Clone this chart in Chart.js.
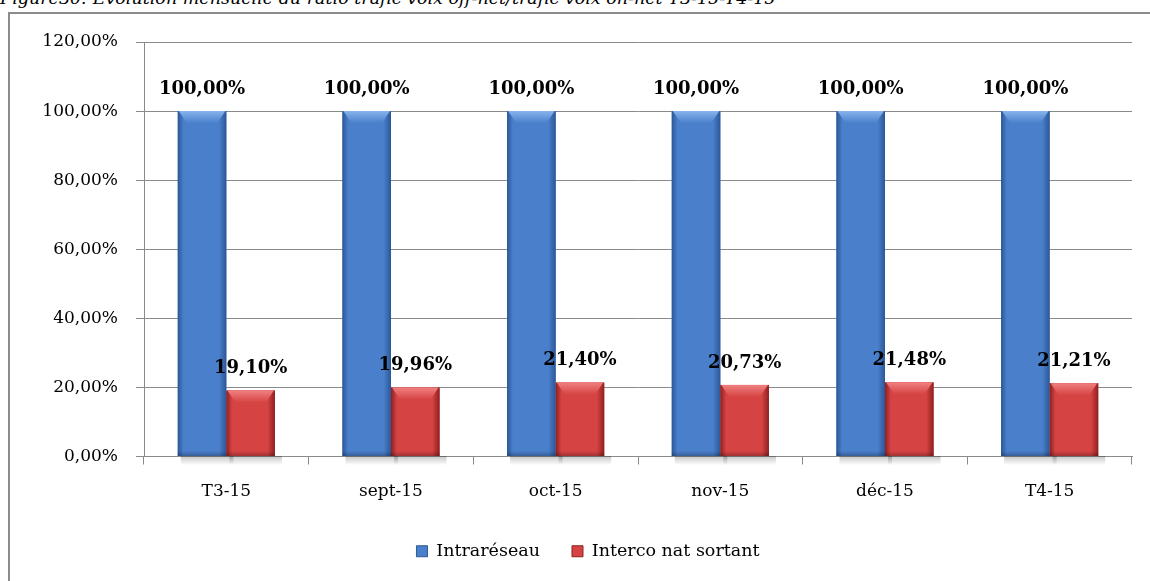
<!DOCTYPE html>
<html>
<head>
<meta charset="utf-8">
<script src="https://cdn.jsdelivr.net/npm/chart.js@4/dist/chart.umd.min.js"></script>
<style>
  html, body { margin: 0; padding: 0; background: #fff; overflow: hidden; }
  #wrap { position: relative; width: 1150px; height: 581px; }
  #ttl { position: absolute; left: 0; top: -11px; font: italic 17.5px 'DejaVu Serif'; line-height: 18px; color: #000; white-space: nowrap; }
  #frame { position: absolute; left: 8px; top: 12px; width: 1200px; height: 700px; border: 2px solid #8c8c8c; box-sizing: border-box; background: #fff; }
  #cv { position: absolute; left: 0; top: 0; }
</style>
</head>
<body>
<div id="wrap">
  <div id="ttl">Figure30: Evolution mensuelle du ratio trafic voix off-net/trafic voix on-net T3-15-T4-15</div>
  <div id="frame"></div>
  <canvas id="cv" width="1150" height="581"></canvas>
</div>
<script>
/* ── données ── */
const categories = ['T3-15', 'sept-15', 'oct-15', 'nov-15', 'déc-15', 'T4-15'];
const intraReseau = [100, 100, 100, 100, 100, 100];
const intercoSortant = [19.10, 19.96, 21.40, 20.73, 21.48, 21.21];
const yTicks = [0, 20, 40, 60, 80, 100, 120];

const fmtPct = v => v.toFixed(2).replace('.', ',') + '%';
const serif = 'DejaVu Serif';

const palette = [
  { main: '#4a7fcb', dark: '#2b5797', light: '#86b4ec' },
  { main: '#d64343', dark: '#8e2020', light: '#f08080' }
];

// bevel shading + shadow on bars, then value labels
const bevelPlugin = {
  id: 'bevel',
  beforeDatasetsDraw(chart) {
    const ctx = chart.ctx;
    ctx.save();
    chart.data.datasets.forEach((ds, di) => {
      chart.getDatasetMeta(di).data.forEach(b => {
        const l = b.x - b.width / 2;
        const g = ctx.createLinearGradient(0, b.base, 0, b.base + 9);
        g.addColorStop(0, 'rgba(0,0,0,.22)'); g.addColorStop(1, 'rgba(0,0,0,0)');
        ctx.fillStyle = g;
        ctx.fillRect(l + 3, b.base, b.width + 4, 9);
      });
    });
    ctx.restore();
  },
  afterDatasetsDraw(chart) {
    const ctx = chart.ctx;
    ctx.save();
    chart.data.datasets.forEach((ds, di) => {
      const p = palette[di];
      chart.getDatasetMeta(di).data.forEach(b => {
        const l = b.x - b.width / 2, r = b.x + b.width / 2, t = b.y, bt = b.base;
        const w = b.width, h = bt - t;
        // body
        const gh = ctx.createLinearGradient(l, 0, r, 0);
        gh.addColorStop(0, p.dark); gh.addColorStop(0.12, p.main);
        gh.addColorStop(0.85, p.main); gh.addColorStop(1, p.dark);
        ctx.fillStyle = gh;
        ctx.fillRect(l, t, w, h);
        // top bevel
        const bv = Math.min(12, h / 3);
        const gt = ctx.createLinearGradient(0, t, 0, t + bv);
        gt.addColorStop(0, p.light); gt.addColorStop(1, p.main);
        ctx.fillStyle = gt;
        ctx.beginPath();
        ctx.moveTo(l + 1, t); ctx.lineTo(r - 1, t); ctx.lineTo(r - 9, t + bv); ctx.lineTo(l + 9, t + bv);
        ctx.closePath(); ctx.fill();
        // bottom edge
        const gb = ctx.createLinearGradient(0, bt - 5, 0, bt);
        gb.addColorStop(0, 'rgba(0,0,0,0)'); gb.addColorStop(1, 'rgba(0,0,0,.25)');
        ctx.fillStyle = gb;
        ctx.fillRect(l, bt - 5, w, 5);
      });
    });
    // labels
    ctx.fillStyle = '#000';
    ctx.font = 'bold 18px ' + serif;
    ctx.textAlign = 'center'; ctx.textBaseline = 'middle';
    chart.data.datasets.forEach((ds, di) => {
      chart.getDatasetMeta(di).data.forEach((b, i) => {
        ctx.fillText(fmtPct(ds.data[i]), b.x, b.y - 22);
      });
    });
    ctx.restore();
  }
};

new Chart(document.getElementById('cv'), {
  type: 'bar',
  data: {
    labels: categories,
    datasets: [
      { label: 'Intraréseau', data: intraReseau, backgroundColor: palette[0].main },
      { label: 'Interco nat sortant', data: intercoSortant, backgroundColor: palette[1].main }
    ]
  },
  options: {
    responsive: false, animation: false,
    layout: { padding: { left: 44, top: 42, right: 18, bottom: 11 } },
    datasets: { bar: { categoryPercentage: 0.59, barPercentage: 1 } },
    scales: {
      x: {
        grid: { offset: true, drawOnChartArea: false, drawTicks: true, tickLength: 8, color: '#8a8a8a' },
        border: { color: '#8a8a8a' },
        ticks: { color: '#000', font: { family: serif, size: 17 }, padding: 17 },
        afterFit(s) { s.height = 54; }
      },
      y: {
        min: 0, max: 120,
        afterBuildTicks(s) { s.ticks = yTicks.map(v => ({ value: v })); },
        grid: { color: '#8a8a8a', tickLength: 8 },
        border: { color: '#8a8a8a' },
        ticks: { color: '#000', font: { family: serif, size: 17 }, padding: 18, callback: v => fmtPct(v) },
        afterFit(s) { s.width = 100; }
      }
    },
    plugins: {
      legend: {
        position: 'bottom',
        labels: {
          color: '#000', font: { family: serif, size: 17.5 }, boxWidth: 11, boxHeight: 11, padding: 32,
          generateLabels(chart) {
            return chart.data.datasets.map((ds, i) => ({
              text: ds.label, fillStyle: palette[i].main, strokeStyle: palette[i].dark, lineWidth: 1, datasetIndex: i
            }));
          }
        }
      },
      tooltip: { enabled: false }
    }
  },
  plugins: [bevelPlugin]
});
</script>
</body>
</html>
